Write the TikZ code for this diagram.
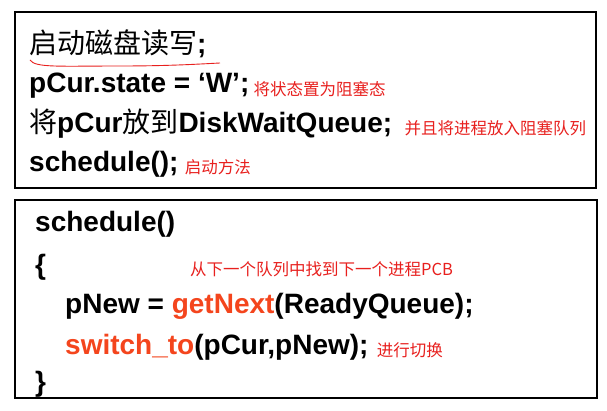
\documentclass[tikz,border=0pt]{standalone}
\usepackage{fontspec}
\setmainfont{Liberation Sans}
\newfontfamily\cjk{Noto Sans CJK SC}[BoldFont=Noto Sans CJK SC]
\definecolor{anno}{HTML}{E8201E}
\definecolor{hl}{HTML}{F4451D}
\begin{document}
\begin{tikzpicture}[x=1pt,y=-1pt,
  code/.style={anchor=base west,inner sep=0,font=\fontsize{28}{30}\selectfont\bfseries},
  note/.style={anchor=base west,inner sep=0,text=anno,font=\fontsize{16.5}{18}\selectfont\cjk\mdseries},
  box/.style={draw=black,line width=1.6pt}]
\useasboundingbox[fill=white] (0,0) rectangle (607,411);
\draw[box] (15,12) rectangle (596,188);
\draw[box] (15,200) rectangle (597,398);
\node[code] (l1) at (29,54) {{\cjk\mdseries 启动磁盘读写};};
\draw[anno,line width=0.9pt] (30,60) .. controls (35,68) and (60,66) .. (120,66) .. controls (170,66) and (200,64) .. (220,63);
\node[code] (l2) at (29,93) {pCur.state = ‘W’;};
\node[note] (n2) at (l2.base east) [xshift=4pt,yshift=-3pt] {将状态置为阻塞态};
\node[code] (l3) at (29,133) {{\cjk\mdseries 将}pCur{\cjk\mdseries 放到}DiskWaitQueue;};
\node[note] (n3) at (l3.base east) [xshift=12pt,yshift=-2pt] {并且将进程放入阻塞队列};
\node[code] (l4) at (29,172) {schedule();};
\node[note] (n4) at (l4.base east) [xshift=6pt,yshift=-2pt] {启动方法};
\node[code] (s1) at (35,232) {schedule()};
\node[code] (s2) at (35,275) {\{};
\node[note] (s3) at (190,276) {从下一个队列中找到下一个进程PCB};
\node[code] (s4) at (65,313) {pNew = \textcolor{hl}{getNext}(ReadyQueue);};
\node[code] (s5) at (65,354) {\textcolor{hl}{switch\_to}(pCur,pNew);};
\node[note] (s6) at (s5.base east) [xshift=8pt,yshift=-2pt] {进行切换};
\node[code] (s7) at (35,391) {\}};
\end{tikzpicture}
\end{document}
